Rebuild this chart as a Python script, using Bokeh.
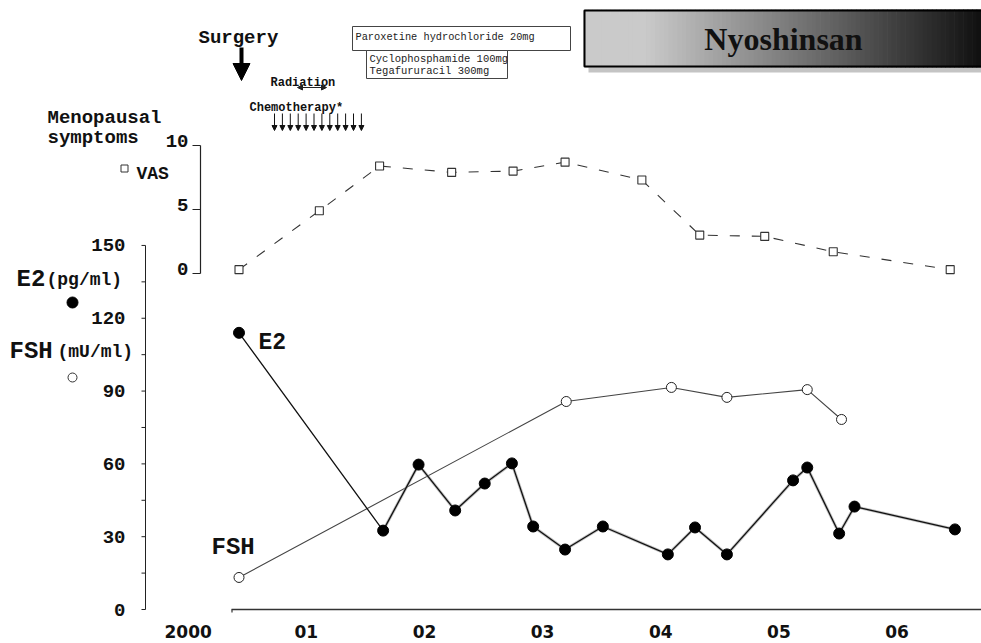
from bokeh.plotting import figure
from bokeh.models import (Range1d, LinearAxis, FixedTicker, Label, Arrow, NormalHead,
                          ColumnDataSource, BoxAnnotation)
from bokeh.core.properties import value
from bokeh.embed import file_html
from bokeh.resources import INLINE
import numpy as np

# ---------------- data ----------------
vas_dates = [2000.43, 2001.11, 2001.62, 2002.23, 2002.75, 2003.19, 2003.84, 2004.33, 2004.88, 2005.46, 2006.45]
vas_values = [0.3, 4.9, 8.4, 7.9, 8.0, 8.7, 7.3, 3.0, 2.9, 1.7, 0.3]

e2_dates = [2000.43, 2001.65, 2001.95, 2002.26, 2002.51, 2002.74, 2002.92, 2003.19, 2003.51,
            2004.06, 2004.29, 2004.56, 2005.12, 2005.24, 2005.51, 2005.64, 2006.49]
e2_values = [114, 32.5, 59.7, 40.8, 51.9, 60.2, 34.2, 24.7, 34.2,
             22.7, 33.8, 22.7, 53.2, 58.5, 31.3, 42.4, 33.0]

fsh_dates = [2000.43, 2003.20, 2004.09, 2004.56, 2005.24, 2005.53]
fsh_values = [13.2, 85.7, 91.5, 87.4, 90.6, 78.3]

year_ticks = [2000, 2001, 2002, 2003, 2004, 2005, 2006]
year_labels = ["2000", "01", "02", "03", "04", "05", "06"]
hormone_ticks = [0, 30, 60, 90, 120, 150]
hormone_tick_labels = ["0", "30", "60", "90", "120", "150"]
hormone_minor = [15, 45, 75, 105, 135]
vas_ticks = [0, 5, 10]
vas_tick_labels = ["0", "5", "10"]
chemo_cycles = 12

# ---------------- layout helpers (canvas pixel -> data) ----------------
def X(px):
    return 2000 + (px - 187.7) / 118.14

def Y(py):
    return (609 - py) / 2.427

def V(py):
    return (273 - py) / 12.8

W, H = 981, 643
FB = 616  # frame bottom in canvas pixels
p = figure(width=W, height=H, output_backend="svg", toolbar_location=None,
           x_range=Range1d(X(0), X(W)), y_range=Range1d(Y(FB), Y(0)),
           min_border_left=0, min_border_right=0, min_border_top=0, min_border_bottom=H - FB,
           title=None)
p.extra_y_ranges = {"vas": Range1d(V(FB), V(0))}
p.outline_line_color = None
p.xgrid.visible = False
p.ygrid.visible = False
p.yaxis.visible = False
p.background_fill_color = "white"
p.border_fill_color = "white"

# bottom year labels (real axis, line drawn separately)
xa = p.xaxis[0]
xa.ticker = FixedTicker(ticks=year_ticks)
xa.major_label_overrides = {t: l for t, l in zip(year_ticks, year_labels)}
xa.axis_line_color = None
xa.major_tick_line_color = None
xa.minor_tick_line_color = None
xa.major_tick_out = 0
xa.major_tick_in = 0
xa.major_label_standoff = 8
xa.major_label_text_font = "DejaVu Sans"
xa.major_label_text_font_style = "bold"
xa.major_label_text_font_size = "17px"
xa.major_label_text_color = "#111"

# time axis line
p.segment(x0=[X(231)], x1=[X(985)], y0=[hormone_ticks[0]], y1=[hormone_ticks[0]],
          line_color="#333", line_width=1.5)
p.segment(x0=[X(231.5)], x1=[X(231.5)], y0=[hormone_ticks[0]], y1=[Y(612)],
          line_color="#333", line_width=1.2)

# hormone axis (E2 / FSH), at x = 145 px
ax_x = X(145)
p.segment(x0=[ax_x], x1=[ax_x], y0=[hormone_ticks[0]], y1=[hormone_ticks[-1]],
          line_color="#222", line_width=1)
all_ticks = hormone_ticks + hormone_minor
p.segment(x0=[X(141)] * len(all_ticks), x1=[ax_x] * len(all_ticks), y0=all_ticks, y1=all_ticks,
          line_color="#222", line_width=1)
p.text(x=[X(125)] * len(hormone_ticks), y=hormone_ticks, text=hormone_tick_labels,
       text_align="right", text_baseline="middle", text_font=value("Liberation Mono"),
       text_font_style="bold", text_font_size=value("19px"), text_color="#111")

# VAS axis, at x = 200 px
p.segment(x0=[X(200)], x1=[X(200)], y0=[vas_ticks[0]], y1=[vas_ticks[-1]], y_range_name="vas",
          line_color="#222", line_width=1.2)
p.segment(x0=[X(192)] * len(vas_ticks), x1=[X(200)] * len(vas_ticks), y0=vas_ticks, y1=vas_ticks,
          y_range_name="vas", line_color="#222", line_width=1)
p.text(x=[X(188)] * len(vas_ticks), y=[t + 0.35 for t in vas_ticks], text=vas_tick_labels,
       y_range_name="vas", text_align="right", text_baseline="middle",
       text_font=value("Liberation Mono"), text_font_style="bold",
       text_font_size=value("19px"), text_color="#111")

# ---------------- Nyoshinsan banner ----------------
p.quad(left=[X(588)], right=[X(990)], top=[Y(14)], bottom=[Y(72)],
       fill_color="#c4c4c4", line_color=None)
n = 90
edges = np.linspace(583, 985, n + 1)
ts = np.linspace(0, 1, n)
cols = []
for t in ts:
    g = int(round(202 - max(0.0, t - 0.15) * 220))
    g = max(16, min(210, g))
    cols.append("#%02x%02x%02x" % (g, g, g))
p.quad(left=[X(a) for a in edges[:-1]], right=[X(b + 0.6) for b in edges[1:]],
       top=[Y(9)] * n, bottom=[Y(67)] * n, fill_color=cols, line_color=None)
p.quad(left=[X(584)], right=[X(990)], top=[Y(10)], bottom=[Y(66)],
       fill_color=None, line_color="black", line_width=2)
p.add_layout(Label(x=X(783), y=Y(38), text="Nyoshinsan", text_align="center",
                   text_baseline="middle", text_font="Liberation Serif",
                   text_font_style="bold", text_font_size="32px", text_color="#111"))

# ---------------- drug boxes ----------------
p.add_layout(BoxAnnotation(left=X(352), right=X(570), top=Y(26), bottom=Y(50),
                           fill_color="white", fill_alpha=1, line_color="#444",
                           line_width=1, line_alpha=1))
p.add_layout(BoxAnnotation(left=X(366), right=X(507), top=Y(50), bottom=Y(78),
                           fill_color="white", fill_alpha=1, line_color="#444",
                           line_width=1, line_alpha=1))
p.add_layout(Label(x=X(355), y=Y(36), text="Paroxetine hydrochloride 20mg",
                   text_align="left", text_baseline="middle", text_font="Liberation Mono",
                   text_font_size="10.3px", text_color="#222"))
p.add_layout(Label(x=X(369), y=Y(58), text="Cyclophosphamide 100mg",
                   text_align="left", text_baseline="middle", text_font="Liberation Mono",
                   text_font_size="10.5px", text_color="#222"))
p.add_layout(Label(x=X(369), y=Y(70), text="Tegafururacil 300mg",
                   text_align="left", text_baseline="middle", text_font="Liberation Mono",
                   text_font_size="10.5px", text_color="#222"))

# ---------------- treatment annotations ----------------
def mono(x, y, txt, size, align="left", base="alphabetic"):
    p.add_layout(Label(x=x, y=y, text=txt, text_align=align, text_baseline=base,
                       text_font="Liberation Mono", text_font_style="bold",
                       text_font_size=size, text_color="#111"))

mono(X(198), Y(37), "Surgery", "19px")
p.add_layout(Arrow(x_start=X(241), y_start=Y(47), x_end=X(241), y_end=Y(80),
                   line_width=4, line_color="black",
                   end=NormalHead(size=17, fill_color="black", line_color="black")))
mono(X(270), Y(82), "Radiation", "12px")
p.add_layout(Arrow(x_start=X(297), y_start=Y(87), x_end=X(326), y_end=Y(87),
                   line_width=1, line_color="#222",
                   start=NormalHead(size=5, fill_color="#222", line_color="#222"),
                   end=NormalHead(size=5, fill_color="#222", line_color="#222")))
mono(X(249), Y(107), "Chemotherapy*", "12px")
cx = [X(274 + i * 7.9) for i in range(chemo_cycles)]
chemo_src = ColumnDataSource(dict(xs=cx, ys=[Y(113)] * chemo_cycles, ye=[Y(130)] * chemo_cycles))
p.add_layout(Arrow(x_start="xs", y_start="ys", x_end="xs", y_end="ye", source=chemo_src,
                   line_width=1, line_color="#111",
                   end=NormalHead(size=5, fill_color="#111", line_color="#111")))

# ---------------- left side labels / legend ----------------
mono(X(47), Y(117), "Menopausal", "19px")
mono(X(47), Y(137), "symptoms", "19px")
p.scatter([X(124)], [Y(168)], marker="square", size=7, fill_color="white",
          line_color="#333", line_width=1)
mono(X(136), Y(173), "VAS", "18px")
mono(X(16), Y(279), "E2", "24px")
mono(X(46), Y(279), "(pg/ml)", "18px")
mono(X(9), Y(351), "FSH", "24px")
mono(X(57), Y(351), "(mU/ml)", "18px")
p.scatter([X(72)], [Y(302)], marker="circle", size=11, fill_color="black", line_color="black")
p.scatter([X(72)], [Y(377)], marker="circle", size=9, fill_color="white", line_color="#333",
          line_width=1)

# series labels
mono(X(258), Y(342), "E2", "23px")
mono(X(211), Y(547), "FSH", "24px")

# ---------------- data series ----------------
p.line(vas_dates, vas_values, y_range_name="vas", line_color="#333", line_width=1.1,
       line_dash="10 12")
p.scatter(vas_dates, vas_values, y_range_name="vas", marker="square", size=8,
          fill_color="white", line_color="#333", line_width=1.1)

p.line(fsh_dates, fsh_values, line_color="#444", line_width=1.1)
p.scatter(fsh_dates, fsh_values, marker="circle", size=10, fill_color="white",
          line_color="#222", line_width=1)

p.line(e2_dates[1:], e2_values[1:], line_color="#999", line_width=3, line_alpha=0.6)
p.line(e2_dates, e2_values, line_color="#111", line_width=1.3)
p.scatter(e2_dates, e2_values, marker="circle", size=11, fill_color="black",
          line_color="black")

open("out.html", "w").write(file_html(p, INLINE))
